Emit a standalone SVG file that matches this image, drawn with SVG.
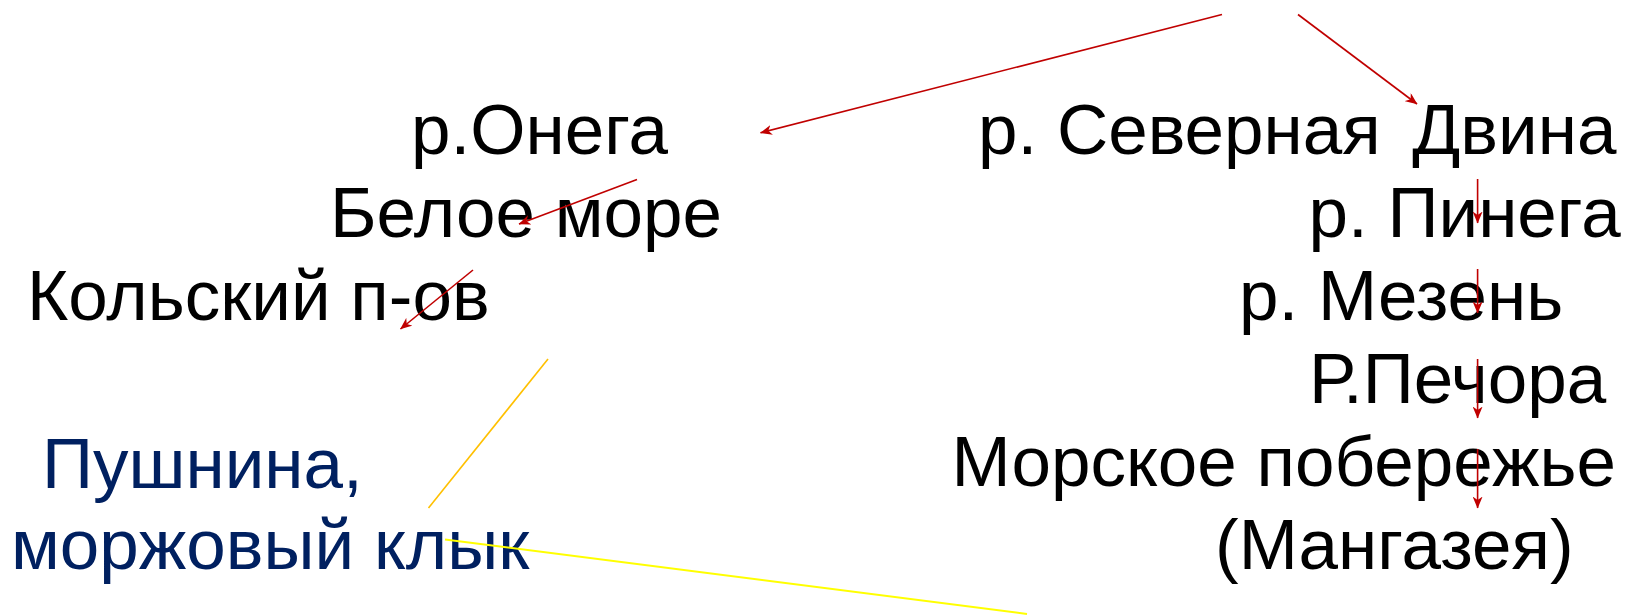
<svg xmlns="http://www.w3.org/2000/svg" width="1627" height="615" viewBox="0 0 1627 615">
  <style>
    text { font-family: "Liberation Sans", Arial, sans-serif; font-size: 71px; fill: #000000; }
    .blue { fill: #002060; }
    .red { stroke: #C00000; stroke-width: 1.6; fill: none; marker-end: url(#arr); }
    .orange { stroke: #FFC000; stroke-width: 1.6; fill: none; }
    .yellow { stroke: #FFFF00; stroke-width: 2; fill: none; }
  </style>
  <defs>
    <marker id="arr" markerUnits="userSpaceOnUse" markerWidth="12" markerHeight="10" viewBox="0 0 12 10" refX="11.5" refY="5" orient="auto">
      <path d="M0,0 L12,5 L0,10 L3.5,5 Z" fill="#C00000"/>
    </marker>
  </defs>
  <rect width="1627" height="615" fill="#FFFFFF"/>
  <g id="onega"><text x="411" y="153.6">р.Онега</text></g>
  <g id="beloe-more"><text x="330" y="236.6">Белое море</text></g>
  <g id="kolsky"><text x="27" y="319.6">Кольский п-ов</text></g>
  <g id="pushnina"><text class="blue" x="42" y="487.7">Пушнина,</text><text class="blue" x="11" y="568.6">моржовый клык</text></g>
  <g id="sev-dvina"><text x="978" y="153.6" xml:space="preserve">р. Северная  <tspan dx="-8">Двина</tspan></text></g>
  <g id="pinega"><text x="1308.5" y="236.6">р. Пинега</text></g>
  <g id="mezen"><text x="1239" y="319.6">р. Мезень</text></g>
  <g id="pechora"><text x="1309" y="402.6">Р.Печора</text></g>
  <g id="poberezhie"><text x="951.5" y="485.6">Морское побережье</text></g>
  <g id="mangazeya"><text x="1215" y="568.6">(Мангазея)</text></g>
  <g id="connectors">
    <line class="red" x1="1222" y1="14.5" x2="760.5" y2="132.8"/>
    <line class="red" x1="1298" y1="14.5" x2="1417" y2="104"/>
    <line class="red" x1="637" y1="179.5" x2="519" y2="224"/>
    <line class="red" x1="473" y1="270" x2="400.5" y2="329"/>
    <line class="red" x1="1477.6" y1="179" x2="1477.6" y2="223"/>
    <line class="red" x1="1477.6" y1="269" x2="1477.6" y2="313"/>
    <line class="red" x1="1477.6" y1="359" x2="1477.6" y2="418"/>
    <line class="red" x1="1477.6" y1="449" x2="1477.6" y2="508"/>
    <line class="orange" x1="548" y1="359" x2="428.5" y2="508"/>
    <line class="yellow" x1="445" y1="539.5" x2="1027" y2="614"/>
  </g>
</svg>
